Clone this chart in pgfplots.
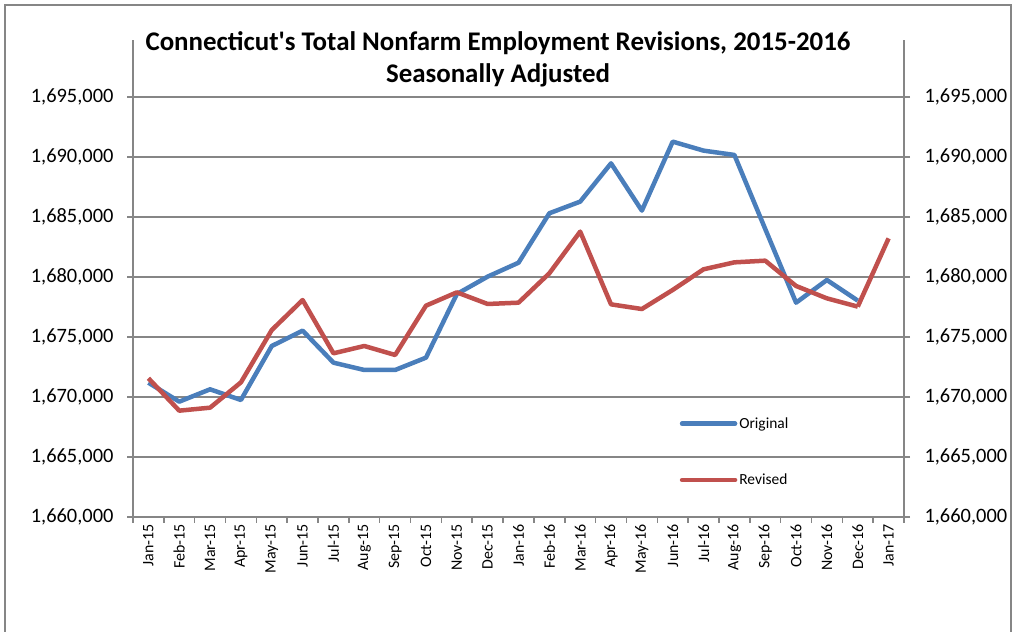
\documentclass[border=0pt]{standalone}
\usepackage{pgfplots}
\pgfplotsset{compat=1.18}
\usepackage{pgfplotstable}
\usepackage{fontspec}
\setmainfont{Carlito}[Ligatures=TeXOff]
\definecolor{origblue}{RGB}{74,126,187}
\definecolor{revred}{RGB}{192,80,77}
\definecolor{axgray}{RGB}{134,134,134}
\pgfplotstableread{
x orig rev
0 1671190 1671560
1 1669610 1668860
2 1670640 1669110
3 1669750 1671220
4 1674250 1675580
5 1675530 1678080
6 1672860 1673640
7 1672250 1674250
8 1672250 1673500
9 1673280 1677610
10 1678580 1678720
11 1680030 1677750
12 1681190 1677860
13 1685310 1680310
14 1686280 1683780
15 1689470 1677720
16 1685530 1677330
17 1691280 1678920
18 1690530 1680640
19 1690170 1681220
20 1684000 1681360
21 1677860 1679250
22 1679750 1678220
23 1678030 1677530
}\datatable
\begin{document}
\begin{tikzpicture}[x=1bp,y=1bp]
\useasboundingbox (0,0) rectangle (1015,632);
\clip (0,0) rectangle (1015,632);
\draw[axgray, line width=1.5bp] (5,-20) rectangle (1011,627);
\node[font=\bfseries\fontsize{27}{32}\selectfont, align=center, anchor=center] at (498,632-59)
  {Connecticut's Total Nonfarm Employment Revisions, 2015-2016\\Seasonally Adjusted};
\begin{axis}[
  at={(133bp,115bp)}, anchor=south west,
  scale only axis, width=771bp, height=477bp,
  xmin=-0.5, xmax=24.5, ymin=1660000, ymax=1699750,
  axis x line*=bottom, axis y line*=left,
  axis line style={axgray, line width=1.5bp},
  xtick={0,...,24},
  xticklabels={Jan-15,Feb-15,Mar-15,Apr-15,May-15,Jun-15,Jul-15,Aug-15,Sep-15,Oct-15,Nov-15,Dec-15,Jan-16,Feb-16,Mar-16,Apr-16,May-16,Jun-16,Jul-16,Aug-16,Sep-16,Oct-16,Nov-16,Dec-16,Jan-17},
  major x tick style={draw=none},
  minor xtick={-0.5,0.5,...,24.5},
  minor x tick style={axgray, line width=1.5bp},
  minor tick length=6bp,
  xtick align=outside,
  xticklabel style={rotate=90, anchor=east, font=\fontsize{16}{18}\selectfont, inner sep=1bp},
  ytick={1660000,1665000,...,1695000},
  ytick align=outside, major tick length=6bp,
  major y tick style={axgray, line width=1.5bp},
  ymajorgrids, grid style={axgray, line width=1.5bp},
  scaled y ticks=false,
  yticklabel style={font=\fontsize{20.5}{23}\selectfont, /pgf/number format/fixed, /pgf/number format/1000 sep={,}, /pgf/number format/assume math mode=true, xshift=-10bp},
  legend style={at={(0.709,0.213)}, anchor=north west, draw=none, fill=none,
    font=\fontsize{15.5}{18}\selectfont, row sep=40bp, inner sep=0pt, cells={anchor=west}},
  legend image code/.code={\draw[#1, line cap=round] (0bp,0bp) -- (53bp,0bp);},
  legend cell align=left,
  clip=false,
]
\addplot[origblue, line width=4.5bp, line join=round] table[x=x, y=orig] {\datatable};
\addlegendentry{Original}
\addplot[revred, line width=4.5bp, line join=round, forget plot] table[x=x, y=rev] {\datatable};
\addplot[revred, line width=4.5bp, line join=round] coordinates {(23,1677530) (24,1683220)};
\addlegendentry{Revised}
\end{axis}
\begin{axis}[
  at={(133bp,115bp)}, anchor=south west,
  scale only axis, width=771bp, height=477bp,
  xmin=-0.5, xmax=24.5, ymin=1660000, ymax=1699750,
  axis x line=none, axis y line*=right,
  axis line style={axgray, line width=1.5bp},
  ytick={1660000,1665000,...,1695000},
  ytick align=outside, major tick length=6bp,
  major y tick style={axgray, line width=1.5bp},
  scaled y ticks=false,
  yticklabel style={font=\fontsize{20.5}{23}\selectfont, /pgf/number format/fixed, /pgf/number format/1000 sep={,}, /pgf/number format/assume math mode=true, xshift=11bp},
]
\addplot[draw=none] coordinates {(0,1670000)};
\end{axis}
\end{tikzpicture}
\end{document}
